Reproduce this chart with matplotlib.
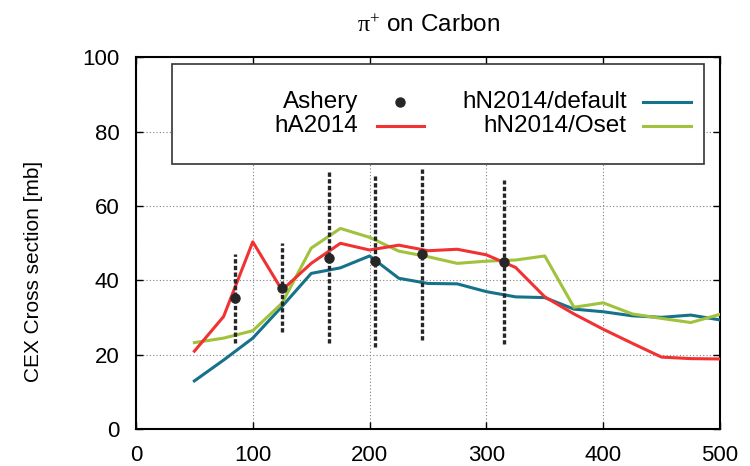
import numpy as np
import matplotlib
matplotlib.use("Agg")
import matplotlib.pyplot as plt
from matplotlib.patches import Rectangle

plt.rcParams['font.family'] = ['Liberation Sans', 'DejaVu Sans']
plt.rcParams['mathtext.fontset'] = 'custom'
plt.rcParams['mathtext.rm'] = 'Liberation Serif'
plt.rcParams['mathtext.it'] = 'Liberation Serif:italic'

# Energia del pion (MeV) para las simulaciones
energia = [50, 75, 100, 125, 150, 175, 200, 225, 250, 275, 300,
           325, 350, 375, 400, 425, 450, 475, 500]
hA2014 = [21.0, 30.3, 50.4, 37.4, 44.6, 50.0, 48.2, 49.5, 48.0, 48.4, 46.9,
          43.5, 35.6, 31.0, 26.9, 23.1, 19.4, 19.0, 18.9]
hN_default = [13.0, 18.6, 24.5, 33.0, 41.9, 43.4, 46.6, 40.6, 39.2, 39.1, 37.0,
              35.6, 35.4, 32.3, 31.6, 30.5, 30.1, 30.7, 29.4]
hN_oset = [23.3, 24.5, 26.5, 33.9, 48.7, 54.0, 51.6, 47.9, 46.4, 44.6, 45.2,
           45.5, 46.6, 32.8, 34.0, 31.0, 29.8, 28.7, 30.9]

# Datos de Ashery con su error
ashery_x = [85, 125, 165, 205, 245, 315]
ashery_y = [35.2, 38.1, 46.1, 45.2, 47.0, 45.0]
ashery_err = [12.0, 12.0, 23.0, 23.0, 23.0, 22.0]

x_ticks = [0, 100, 200, 300, 400, 500]
y_ticks = [0, 20, 40, 60, 80, 100]

c_rojo = '#f03232'
c_azul = '#16718a'
c_verde = '#a0c23c'
c_negro = '#262626'

fig = plt.figure(figsize=(7.5, 4.66), dpi=100)
ax = fig.add_axes([0.1813, 0.0788, 0.7787, 0.7982])

ax.plot(energia, hN_default, color=c_azul, lw=2.2, zorder=3)
ax.plot(energia, hN_oset, color=c_verde, lw=2.2, zorder=3)
ax.plot(energia, hA2014, color=c_rojo, lw=2.2, zorder=3)

ay = np.array(ashery_y)
ae = np.array(ashery_err)
ax.vlines(ashery_x, ay - ae, ay + ae, colors=c_negro, lw=2.4,
          linestyles=[(0, (1.3, 0.7))], zorder=4)
ax.plot(ashery_x, ashery_y, 'o', color=c_negro, ms=6.5, zorder=4)

ax.set_xlim(0, 500)
ax.set_ylim(0, 100)
ax.set_xticks(x_ticks)
ax.set_yticks(y_ticks)
ax.tick_params(direction='in', top=True, right=True, length=5, width=1,
               labelsize=16)
ax.tick_params(axis='x', pad=11)
ax.tick_params(axis='y', pad=12)
for s in ax.spines.values():
    s.set_linewidth(1.5)
ax.grid(True, color='#808080', lw=0.8, linestyle=(0, (1, 2)))
ax.set_axisbelow(True)

ax.set_ylabel('CEX Cross section [mb]', fontsize=15)
ax.yaxis.set_label_coords(-0.159, 0.425)
ax.set_title(r'$\mathrm{\pi}^{+}$ on Carbon', fontsize=17.5, pad=18)

# Leyenda a mano (texto alineado a la derecha, como en gnuplot)
caja = Rectangle((0.0622, 0.7124), 0.9108, 0.2696, transform=ax.transAxes,
                 facecolor='white', edgecolor='#333333', lw=1.2, zorder=5)
ax.add_patch(caja)
fila1, fila2 = 0.8806, 0.8153
tkw = dict(transform=ax.transAxes, ha='right', va='center', fontsize=17.5, zorder=6)
ax.text(0.3807, fila1, 'Ashery', **tkw)
ax.text(0.3807, fila2, 'hA2014', **tkw)
ax.text(0.8402, fila1, 'hN2014/default', **tkw)
ax.text(0.8402, fila2, 'hN2014/Oset', **tkw)
ax.plot([0.452], [fila1], 'o', color=c_negro, ms=6.5, transform=ax.transAxes, zorder=6)
ax.plot([0.4122, 0.4926], [fila2, fila2], color=c_rojo, lw=2.2, transform=ax.transAxes, zorder=6)
ax.plot([0.8687, 0.9498], [fila1, fila1], color=c_azul, lw=2.2, transform=ax.transAxes, zorder=6)
ax.plot([0.8687, 0.9498], [fila2, fila2], color=c_verde, lw=2.2, transform=ax.transAxes, zorder=6)

fig.savefig('out.png', dpi=100)
